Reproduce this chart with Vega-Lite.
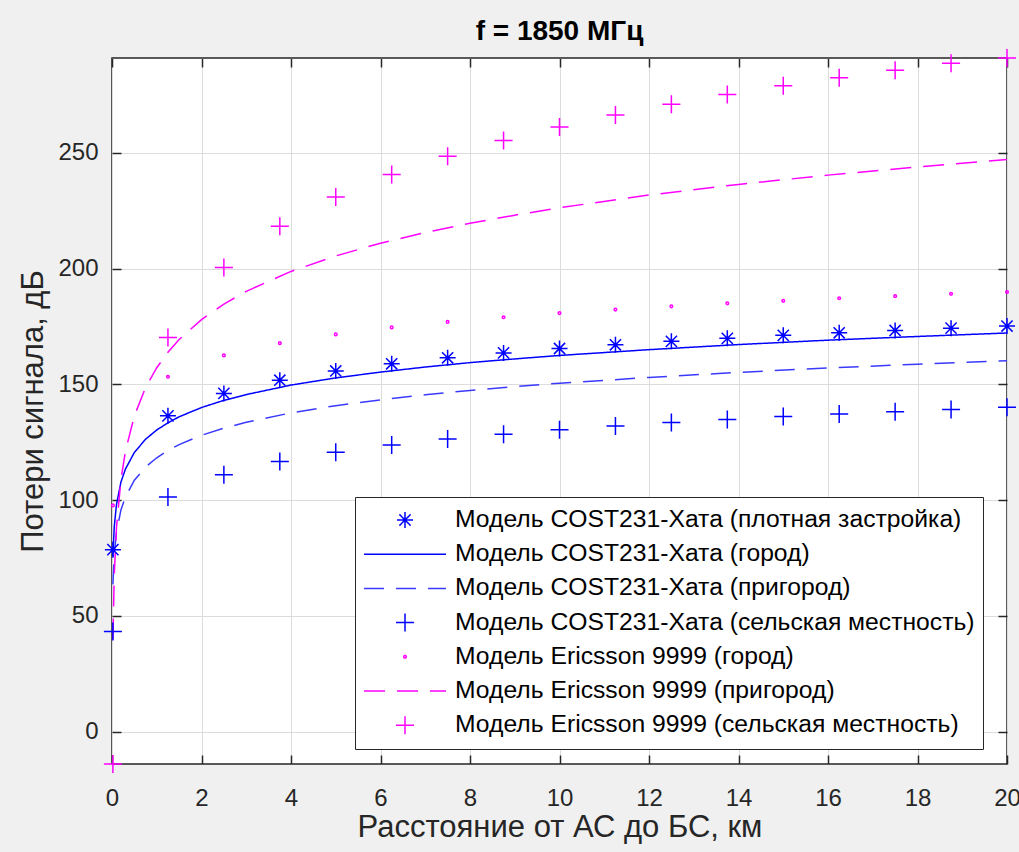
{
  "$schema": "https://vega.github.io/schema/vega-lite/v6.json",
  "autosize": {"type": "none"},
  "width": 895,
  "height": 706,
  "padding": {"left": 112, "top": 58, "right": 12, "bottom": 88},
  "title": {"text": "f = 1850 МГц", "fontSize": 28, "fontWeight": "bold", "color": "black", "offset": 0, "font": "Liberation Sans"},
  "datasets": {
    "pts": [
      {"s": "Модель COST231-Хата (плотная застройка)", "d": 0.02, "v": 78.6},
      {"s": "Модель COST231-Хата (плотная застройка)", "d": 1.25, "v": 136.4},
      {"s": "Модель COST231-Хата (плотная застройка)", "d": 2.5, "v": 146.1},
      {"s": "Модель COST231-Хата (плотная застройка)", "d": 3.75, "v": 151.8},
      {"s": "Модель COST231-Хата (плотная застройка)", "d": 5, "v": 155.8},
      {"s": "Модель COST231-Хата (плотная застройка)", "d": 6.25, "v": 158.9},
      {"s": "Модель COST231-Хата (плотная застройка)", "d": 7.5, "v": 161.5},
      {"s": "Модель COST231-Хата (плотная застройка)", "d": 8.75, "v": 163.6},
      {"s": "Модель COST231-Хата (плотная застройка)", "d": 10, "v": 165.5},
      {"s": "Модель COST231-Хата (плотная застройка)", "d": 11.25, "v": 167.1},
      {"s": "Модель COST231-Хата (плотная застройка)", "d": 12.5, "v": 168.6},
      {"s": "Модель COST231-Хата (плотная застройка)", "d": 13.75, "v": 169.9},
      {"s": "Модель COST231-Хата (плотная застройка)", "d": 15, "v": 171.2},
      {"s": "Модель COST231-Хата (плотная застройка)", "d": 16.25, "v": 172.3},
      {"s": "Модель COST231-Хата (плотная застройка)", "d": 17.5, "v": 173.3},
      {"s": "Модель COST231-Хата (плотная застройка)", "d": 18.75, "v": 174.3},
      {"s": "Модель COST231-Хата (плотная застройка)", "d": 20, "v": 175.2},
      {"s": "Модель COST231-Хата (сельская местность)", "d": 0.02, "v": 43.2},
      {"s": "Модель COST231-Хата (сельская местность)", "d": 1.25, "v": 101.3},
      {"s": "Модель COST231-Хата (сельская местность)", "d": 2.5, "v": 111.0},
      {"s": "Модель COST231-Хата (сельская местность)", "d": 3.75, "v": 116.7},
      {"s": "Модель COST231-Хата (сельская местность)", "d": 5, "v": 120.7},
      {"s": "Модель COST231-Хата (сельская местность)", "d": 6.25, "v": 123.8},
      {"s": "Модель COST231-Хата (сельская местность)", "d": 7.5, "v": 126.4},
      {"s": "Модель COST231-Хата (сельская местность)", "d": 8.75, "v": 128.5},
      {"s": "Модель COST231-Хата (сельская местность)", "d": 10, "v": 130.4},
      {"s": "Модель COST231-Хата (сельская местность)", "d": 11.25, "v": 132.0},
      {"s": "Модель COST231-Хата (сельская местность)", "d": 12.5, "v": 133.5},
      {"s": "Модель COST231-Хата (сельская местность)", "d": 13.75, "v": 134.8},
      {"s": "Модель COST231-Хата (сельская местность)", "d": 15, "v": 136.1},
      {"s": "Модель COST231-Хата (сельская местность)", "d": 16.25, "v": 137.2},
      {"s": "Модель COST231-Хата (сельская местность)", "d": 17.5, "v": 138.2},
      {"s": "Модель COST231-Хата (сельская местность)", "d": 18.75, "v": 139.2},
      {"s": "Модель COST231-Хата (сельская местность)", "d": 20, "v": 140.1},
      {"s": "Модель Ericsson 9999 (город)", "d": 0.02, "v": 97.7},
      {"s": "Модель Ericsson 9999 (город)", "d": 1.25, "v": 153.3},
      {"s": "Модель Ericsson 9999 (город)", "d": 2.5, "v": 162.5},
      {"s": "Модель Ericsson 9999 (город)", "d": 3.75, "v": 167.8},
      {"s": "Модель Ericsson 9999 (город)", "d": 5, "v": 171.6},
      {"s": "Модель Ericsson 9999 (город)", "d": 6.25, "v": 174.6},
      {"s": "Модель Ericsson 9999 (город)", "d": 7.5, "v": 177.0},
      {"s": "Модель Ericsson 9999 (город)", "d": 8.75, "v": 179.0},
      {"s": "Модель Ericsson 9999 (город)", "d": 10, "v": 180.8},
      {"s": "Модель Ericsson 9999 (город)", "d": 11.25, "v": 182.3},
      {"s": "Модель Ericsson 9999 (город)", "d": 12.5, "v": 183.7},
      {"s": "Модель Ericsson 9999 (город)", "d": 13.75, "v": 185.0},
      {"s": "Модель Ericsson 9999 (город)", "d": 15, "v": 186.1},
      {"s": "Модель Ericsson 9999 (город)", "d": 16.25, "v": 187.2},
      {"s": "Модель Ericsson 9999 (город)", "d": 17.5, "v": 188.1},
      {"s": "Модель Ericsson 9999 (город)", "d": 18.75, "v": 189.1},
      {"s": "Модель Ericsson 9999 (город)", "d": 20, "v": 189.9},
      {"s": "Модель Ericsson 9999 (сельская местность)", "d": 0.02, "v": -14.0},
      {"s": "Модель Ericsson 9999 (сельская местность)", "d": 1.25, "v": 170.2},
      {"s": "Модель Ericsson 9999 (сельская местность)", "d": 2.5, "v": 200.5},
      {"s": "Модель Ericsson 9999 (сельская местность)", "d": 3.75, "v": 218.3},
      {"s": "Модель Ericsson 9999 (сельская местность)", "d": 5, "v": 230.9},
      {"s": "Модель Ericsson 9999 (сельская местность)", "d": 6.25, "v": 240.7},
      {"s": "Модель Ericsson 9999 (сельская местность)", "d": 7.5, "v": 248.6},
      {"s": "Модель Ericsson 9999 (сельская местность)", "d": 8.75, "v": 255.4},
      {"s": "Модель Ericsson 9999 (сельская местность)", "d": 10, "v": 261.2},
      {"s": "Модель Ericsson 9999 (сельская местность)", "d": 11.25, "v": 266.4},
      {"s": "Модель Ericsson 9999 (сельская местность)", "d": 12.5, "v": 271.0},
      {"s": "Модель Ericsson 9999 (сельская местность)", "d": 13.75, "v": 275.2},
      {"s": "Модель Ericsson 9999 (сельская местность)", "d": 15, "v": 279.0},
      {"s": "Модель Ericsson 9999 (сельская местность)", "d": 16.25, "v": 282.5},
      {"s": "Модель Ericsson 9999 (сельская местность)", "d": 17.5, "v": 285.7},
      {"s": "Модель Ericsson 9999 (сельская местность)", "d": 18.75, "v": 288.7},
      {"s": "Модель Ericsson 9999 (сельская местность)", "d": 20, "v": 291.0}
    ],
    "lns": [
      {"s": "Модель COST231-Хата (город)", "d": 0.02, "v": 75.6},
      {"s": "Модель COST231-Хата (город)", "d": 0.05, "v": 88.4},
      {"s": "Модель COST231-Хата (город)", "d": 0.1, "v": 98.1},
      {"s": "Модель COST231-Хата (город)", "d": 0.2, "v": 107.8},
      {"s": "Модель COST231-Хата (город)", "d": 0.3, "v": 113.4},
      {"s": "Модель COST231-Хата (город)", "d": 0.5, "v": 120.6},
      {"s": "Модель COST231-Хата (город)", "d": 0.75, "v": 126.3},
      {"s": "Модель COST231-Хата (город)", "d": 1, "v": 130.3},
      {"s": "Модель COST231-Хата (город)", "d": 1.25, "v": 133.4},
      {"s": "Модель COST231-Хата (город)", "d": 1.5, "v": 136.0},
      {"s": "Модель COST231-Хата (город)", "d": 2, "v": 140.0},
      {"s": "Модель COST231-Хата (город)", "d": 2.5, "v": 143.1},
      {"s": "Модель COST231-Хата (город)", "d": 3, "v": 145.6},
      {"s": "Модель COST231-Хата (город)", "d": 4, "v": 149.7},
      {"s": "Модель COST231-Хата (город)", "d": 5, "v": 152.8},
      {"s": "Модель COST231-Хата (город)", "d": 6, "v": 155.3},
      {"s": "Модель COST231-Хата (город)", "d": 7, "v": 157.5},
      {"s": "Модель COST231-Хата (город)", "d": 8, "v": 159.4},
      {"s": "Модель COST231-Хата (город)", "d": 9, "v": 161.0},
      {"s": "Модель COST231-Хата (город)", "d": 10, "v": 162.5},
      {"s": "Модель COST231-Хата (город)", "d": 12, "v": 165.0},
      {"s": "Модель COST231-Хата (город)", "d": 14, "v": 167.2},
      {"s": "Модель COST231-Хата (город)", "d": 16, "v": 169.1},
      {"s": "Модель COST231-Хата (город)", "d": 18, "v": 170.7},
      {"s": "Модель COST231-Хата (город)", "d": 20, "v": 172.2},
      {"s": "Модель COST231-Хата (пригород)", "d": 0.02, "v": 63.6},
      {"s": "Модель COST231-Хата (пригород)", "d": 0.05, "v": 76.4},
      {"s": "Модель COST231-Хата (пригород)", "d": 0.1, "v": 86.1},
      {"s": "Модель COST231-Хата (пригород)", "d": 0.2, "v": 95.8},
      {"s": "Модель COST231-Хата (пригород)", "d": 0.3, "v": 101.4},
      {"s": "Модель COST231-Хата (пригород)", "d": 0.5, "v": 108.6},
      {"s": "Модель COST231-Хата (пригород)", "d": 0.75, "v": 114.3},
      {"s": "Модель COST231-Хата (пригород)", "d": 1, "v": 118.3},
      {"s": "Модель COST231-Хата (пригород)", "d": 1.25, "v": 121.4},
      {"s": "Модель COST231-Хата (пригород)", "d": 1.5, "v": 124.0},
      {"s": "Модель COST231-Хата (пригород)", "d": 2, "v": 128.0},
      {"s": "Модель COST231-Хата (пригород)", "d": 2.5, "v": 131.1},
      {"s": "Модель COST231-Хата (пригород)", "d": 3, "v": 133.6},
      {"s": "Модель COST231-Хата (пригород)", "d": 4, "v": 137.7},
      {"s": "Модель COST231-Хата (пригород)", "d": 5, "v": 140.8},
      {"s": "Модель COST231-Хата (пригород)", "d": 6, "v": 143.3},
      {"s": "Модель COST231-Хата (пригород)", "d": 7, "v": 145.5},
      {"s": "Модель COST231-Хата (пригород)", "d": 8, "v": 147.4},
      {"s": "Модель COST231-Хата (пригород)", "d": 9, "v": 149.0},
      {"s": "Модель COST231-Хата (пригород)", "d": 10, "v": 150.5},
      {"s": "Модель COST231-Хата (пригород)", "d": 12, "v": 153.0},
      {"s": "Модель COST231-Хата (пригород)", "d": 14, "v": 155.2},
      {"s": "Модель COST231-Хата (пригород)", "d": 16, "v": 157.1},
      {"s": "Модель COST231-Хата (пригород)", "d": 18, "v": 158.7},
      {"s": "Модель COST231-Хата (пригород)", "d": 20, "v": 160.2},
      {"s": "Модель Ericsson 9999 (пригород)", "d": 0.02, "v": 39.8},
      {"s": "Модель Ericsson 9999 (пригород)", "d": 0.05, "v": 67.3},
      {"s": "Модель Ericsson 9999 (пригород)", "d": 0.1, "v": 88.1},
      {"s": "Модель Ericsson 9999 (пригород)", "d": 0.2, "v": 108.9},
      {"s": "Модель Ericsson 9999 (пригород)", "d": 0.3, "v": 121.1},
      {"s": "Модель Ericsson 9999 (пригород)", "d": 0.5, "v": 136.4},
      {"s": "Модель Ericsson 9999 (пригород)", "d": 0.75, "v": 148.6},
      {"s": "Модель Ericsson 9999 (пригород)", "d": 1, "v": 157.2},
      {"s": "Модель Ericsson 9999 (пригород)", "d": 1.25, "v": 163.9},
      {"s": "Модель Ericsson 9999 (пригород)", "d": 1.5, "v": 169.4},
      {"s": "Модель Ericsson 9999 (пригород)", "d": 2, "v": 178.0},
      {"s": "Модель Ericsson 9999 (пригород)", "d": 2.5, "v": 184.7},
      {"s": "Модель Ericsson 9999 (пригород)", "d": 3, "v": 190.2},
      {"s": "Модель Ericsson 9999 (пригород)", "d": 4, "v": 198.8},
      {"s": "Модель Ericsson 9999 (пригород)", "d": 5, "v": 205.5},
      {"s": "Модель Ericsson 9999 (пригород)", "d": 6, "v": 211.0},
      {"s": "Модель Ericsson 9999 (пригород)", "d": 7, "v": 215.6},
      {"s": "Модель Ericsson 9999 (пригород)", "d": 8, "v": 219.6},
      {"s": "Модель Ericsson 9999 (пригород)", "d": 9, "v": 223.1},
      {"s": "Модель Ericsson 9999 (пригород)", "d": 10, "v": 226.3},
      {"s": "Модель Ericsson 9999 (пригород)", "d": 12, "v": 231.8},
      {"s": "Модель Ericsson 9999 (пригород)", "d": 14, "v": 236.4},
      {"s": "Модель Ericsson 9999 (пригород)", "d": 16, "v": 240.4},
      {"s": "Модель Ericsson 9999 (пригород)", "d": 18, "v": 243.9},
      {"s": "Модель Ericsson 9999 (пригород)", "d": 20, "v": 247.1}
    ]
  },
  "layer": [
    {
      "data": {"name": "lns"},
      "mark": {"type": "line", "strokeWidth": 1.5, "clip": true},
      "encoding": {
        "x": {"field": "d", "type": "quantitative",
              "scale": {"domain": [0, 20], "nice": false, "zero": false},
              "axis": {"orient": "bottom", "values": [0, 2, 4, 6, 8, 10, 12, 14, 16, 18, 20], "grid": true, "labelFlush": false, "title": "Расстояние от АС до БС, км", "labelPadding": 31, "titlePadding": 2}},
        "y": {"field": "v", "type": "quantitative",
              "scale": {"domain": [-14, 291], "nice": false, "zero": false},
              "axis": {"orient": "left", "values": [0, 50, 100, 150, 200, 250], "grid": true, "labelFlush": false, "title": "Потери сигнала, дБ", "labelPadding": 23, "titlePadding": 8}},
        "color": {"field": "s", "type": "nominal",
                  "scale": {"domain": ["Модель COST231-Хата (плотная застройка)", "Модель COST231-Хата (город)", "Модель COST231-Хата (пригород)", "Модель COST231-Хата (сельская местность)", "Модель Ericsson 9999 (город)", "Модель Ericsson 9999 (пригород)", "Модель Ericsson 9999 (сельская местность)"],
                            "range": ["#0000ff", "#0000ff", "#3a3aff", "#0000ff", "#ff00ff", "#ff00ff", "#ff00ff"]},
                  "legend": {"title": null}},
        "strokeDash": {"field": "s", "type": "nominal",
                  "scale": {"domain": ["Модель COST231-Хата (плотная застройка)", "Модель COST231-Хата (город)", "Модель COST231-Хата (пригород)", "Модель COST231-Хата (сельская местность)", "Модель Ericsson 9999 (город)", "Модель Ericsson 9999 (пригород)", "Модель Ericsson 9999 (сельская местность)"],
                            "range": [[1, 0], [1, 0], [20, 12], [1, 0], [1, 0], [21, 12], [1, 0]]},
                  "legend": {"title": null}}
      }
    },
    {
      "data": {"name": "pts"},
      "mark": {"type": "point", "filled": false, "strokeWidth": 1.5, "opacity": 1, "clip": false},
      "encoding": {
        "x": {"field": "d", "type": "quantitative",
              "axis": {"orient": "top", "values": [0, 2, 4, 6, 8, 10, 12, 14, 16, 18, 20], "grid": false, "labels": false, "title": null}},
        "y": {"field": "v", "type": "quantitative",
              "axis": {"orient": "right", "values": [0, 50, 100, 150, 200, 250], "grid": false, "labels": false, "title": null}},
        "color": {"field": "s", "type": "nominal", "legend": {"title": null}},
        "shape": {"field": "s", "type": "nominal",
                  "scale": {"domain": ["Модель COST231-Хата (плотная застройка)", "Модель COST231-Хата (город)", "Модель COST231-Хата (пригород)", "Модель COST231-Хата (сельская местность)", "Модель Ericsson 9999 (город)", "Модель Ericsson 9999 (пригород)", "Модель Ericsson 9999 (сельская местность)"],
                            "range": ["M-1,0L1,0M0,-1L0,1M-0.7,-0.7L0.7,0.7M-0.7,0.7L0.7,-0.7", "M-1,0L1,0", "M-1,0L1,0", "M-1,0L1,0M0,-1L0,1", "circle", "M-1,0L1,0", "M-1,0L1,0M0,-1L0,1"]},
                  "legend": {"title": null}},
        "size": {"field": "s", "type": "nominal",
                 "scale": {"type": "ordinal", "domain": ["Модель COST231-Хата (плотная застройка)", "Модель COST231-Хата (город)", "Модель COST231-Хата (пригород)", "Модель COST231-Хата (сельская местность)", "Модель Ericsson 9999 (город)", "Модель Ericsson 9999 (пригород)", "Модель Ericsson 9999 (сельская местность)"],
                           "range": [256, 6724, 6724, 324, 7, 6724, 324]},
                 "legend": {"title": null}}
      }
    }
  ],
  "resolve": {"axis": {"x": "independent", "y": "independent"}},
  "config": {
    "background": "#f0f0f0",
    "font": "Liberation Sans",
    "view": {"fill": "white", "stroke": "#262626", "strokeWidth": 1.5},
    "axis": {
      "labelFont": "Liberation Sans", "labelFontSize": 24, "labelColor": "#262626",
      "titleFont": "Liberation Sans", "titleFontSize": 31, "titleFontWeight": "normal", "titleColor": "#262626",
      "gridColor": "#dcdcdc", "gridWidth": 1, "domain": false,
      "tickColor": "#262626", "tickSize": -9, "tickWidth": 1.5
    },
    "legend": {
      "orient": "none", "legendX": 243, "legendY": 439,
      "labelFont": "Liberation Sans", "labelFontSize": 24.7, "labelColor": "black", "labelLimit": 0,
      "symbolStrokeWidth": 1.5, "symbolFillColor": "transparent",
      "clipHeight": 30, "rowPadding": 4.2, "padding": 8, "labelOffset": 8, "symbolOffset": 0,
      "strokeColor": "#262626", "fillColor": "white", "cornerRadius": 0
    }
  }
}
